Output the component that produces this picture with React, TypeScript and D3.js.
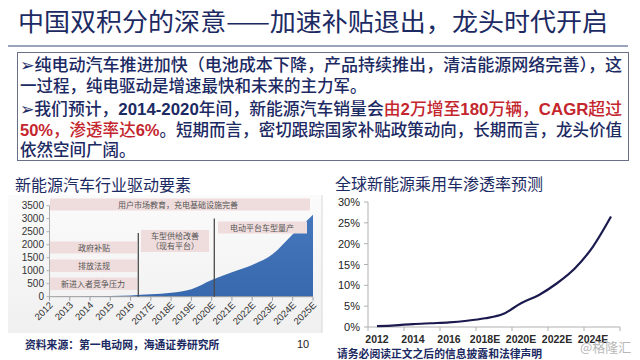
import React from "react";
import * as d3 from "d3";

const leftCategories = ["2012","2013","2014","2015","2016","2017E","2018E","2019E","2020E","2021E","2022E","2023E","2024E","2025E"];
const salesValues = [0, 5, 15, 30, 50, 90, 150, 285, 640, 940, 1220, 1630, 2400, 3150];
const leftTicks = [0, 500, 1000, 1500, 2000, 2500, 3000, 3500];
const driverLabels = ["用户市场教育，充电基础设施完善", "政府补贴", "排放法规", "新进入者竞争压力", "车型供给改善", "（现有平台）", "电动平台车型量产"];

const rightCategories = ["2012","2013","2014","2015","2016","2017E","2018E","2019E","2020E","2021E","2022E","2023E","2024E","2025E"];
const penetration = [0.2, 0.4, 0.7, 0.9, 1.1, 1.5, 2.1, 3.1, 5.7, 7.7, 10.5, 14.1, 19.3, 26.5];
const rightTicks = [0, 5, 10, 15, 20, 25, 30];

const CJK = "'Noto Sans CJK SC', 'Noto Sans', sans-serif";
const LAT = "'Liberation Sans', Arial, sans-serif";
const NAVY = "#1c2a63";
const RED = "#c4262e";

export default function App() {
  // left chart
  const xL = d3.scalePoint<string>().domain(leftCategories).range([49.5, 313]);
  const yL = d3.scaleLinear().domain([0, 3500]).range([296.7, 205.7]);
  const area = d3.area<number>()
    .x((_, i) => xL(leftCategories[i]) as number)
    .y0(yL(0))
    .y1((d) => yL(d))
    .curve(d3.curveMonotoneX);

  // right chart
  const xR = d3.scaleBand<string>().domain(rightCategories).range([368, 620]).padding(0);
  const yR = d3.scaleLinear().domain([0, 30]).range([327, 202]);
  const cx = (c: string) => (xR(c) as number) + xR.bandwidth() / 2;
  const line = d3.line<number>()
    .x((_, i) => cx(rightCategories[i]))
    .y((d) => yR(d))
    .curve(d3.curveMonotoneX);

  const boxes = [
    { x: 50, y: 198.5, w: 260, h: 12, label: [driverLabels[0]], tx: 178 },
    { x: 50, y: 241.5, w: 87, h: 12, label: [driverLabels[1]], tx: 94 },
    { x: 50, y: 259.5, w: 87, h: 12.5, label: [driverLabels[2]], tx: 94 },
    { x: 50, y: 277.5, w: 87, h: 12.5, label: [driverLabels[3]], tx: 93 },
    { x: 141, y: 230, w: 68, h: 22, label: [driverLabels[4], driverLabels[5]], tx: 175 },
    { x: 218, y: 221.5, w: 89, h: 12, label: [driverLabels[6]], tx: 262 },
  ];

  const rightTickPositions = rightCategories.filter((_, i) => i % 2 === 0).map((c) => xR(c) as number).concat([620]);

  return (
    <svg width={640} height={360} style={{ position: "absolute", left: 0, top: 0, background: "#fff" }}>
      <defs>
        <linearGradient id="panel" x1="0" y1="0" x2="0" y2="1">
          <stop offset="0" stopColor="#fbfbfb" />
          <stop offset="1" stopColor="#f0f0f0" />
        </linearGradient>
        <linearGradient id="areaFill" x1="0" y1="0" x2="0" y2="1">
          <stop offset="0" stopColor="#4577bd" />
          <stop offset="1" stopColor="#3868ae" />
        </linearGradient>
      </defs>
      <rect width={640} height={360} fill="#fff" />

      {/* title */}
      <text x={18} y={31} fontFamily={CJK} fontSize={25} fill={NAVY} textLength={590} lengthAdjust="spacingAndGlyphs">
        中国双积分的深意——加速补贴退出，龙头时代开启
      </text>
      <line x1={8} x2={628} y1={46} y2={46} stroke="#9aa2bd" strokeWidth={2} />

      {/* text box */}
      <rect x={17.5} y={52.5} width={611} height={108} fill="#fff" stroke="#6a6f88" strokeWidth={1} />
      <g fontFamily={CJK} fontSize={16.5} fill={NAVY} fontWeight={500}>
        <text x={20} y={71} textLength={602} lengthAdjust="spacingAndGlyphs">➢纯电动汽车推进加快（电池成本下降，产品持续推出，清洁能源网络完善），这</text>
        <text x={20} y={92}>一过程，纯电驱动是增速最快和未来的主力军。</text>
        <text x={20} y={115} textLength={602} lengthAdjust="spacingAndGlyphs">
          <tspan>➢我们预计，</tspan>
          <tspan fontFamily={LAT} fontWeight="bold">2014-2020</tspan>
          <tspan>年间，新能源汽车销量会</tspan>
          <tspan fill={RED}>由</tspan>
          <tspan fill={RED} fontFamily={LAT} fontWeight="bold">2</tspan>
          <tspan fill={RED}>万增至</tspan>
          <tspan fill={RED} fontFamily={LAT} fontWeight="bold">180</tspan>
          <tspan fill={RED}>万辆，</tspan>
          <tspan fill={RED} fontFamily={LAT} fontWeight="bold">CAGR</tspan>
          <tspan fill={RED}>超过</tspan>
        </text>
        <text x={20} y={136} textLength={602} lengthAdjust="spacingAndGlyphs">
          <tspan fill={RED} fontFamily={LAT} fontWeight="bold">50%</tspan>
          <tspan fill={RED}>，渗透率达</tspan>
          <tspan fill={RED} fontFamily={LAT} fontWeight="bold">6%</tspan>
          <tspan>。短期而言，密切跟踪国家补贴政策动向，长期而言，龙头价值</tspan>
        </text>
        <text x={20} y={156}>依然空间广阔。</text>
      </g>

      {/* section titles */}
      <text x={15} y={191} fontFamily={CJK} fontSize={16} fill={NAVY}>新能源汽车行业驱动要素</text>
      <text x={335} y={190} fontFamily={CJK} fontSize={16} fill={NAVY}>全球新能源乘用车渗透率预测</text>

      {/* left panel */}
      <rect x={8} y={195} width={314} height={138} fill="url(#panel)" />
      <line x1={322} x2={322} y1={195} y2={333} stroke="#d8d8d8" />

      <path d={area(salesValues) as string} fill="url(#areaFill)" />

      {/* left axes */}
      <line x1={49.5} x2={49.5} y1={yL(3500)} y2={yL(0)} stroke="#b0b0b0" />
      {leftTicks.map((t) => (
        <g key={t}>
          <line x1={46.5} x2={49.5} y1={yL(t)} y2={yL(t)} stroke="#b0b0b0" />
          <text x={44} y={yL(t) + 3.5} textAnchor="end" fontFamily={LAT} fontSize={10} fill="#333">{t}</text>
        </g>
      ))}
      <line x1={49.5} x2={313} y1={yL(0)} y2={yL(0)} stroke="#a0a0a0" />
      {leftCategories.map((c) => (
        <g key={c}>
          <line x1={xL(c)} x2={xL(c)} y1={yL(0)} y2={yL(0) + 4} stroke="#a0a0a0" />
          <text transform={`translate(${(xL(c) as number) + 4},${yL(0) + 9}) rotate(-45)`} textAnchor="end" fontFamily={LAT} fontSize={9.5} fill="#333">{c}</text>
        </g>
      ))}

      {/* dividers */}
      <line x1={138.3} x2={138.3} y1={233} y2={yL(0)} stroke="#4a4a4a" strokeWidth={1.3} />
      <line x1={214.3} x2={214.3} y1={218.5} y2={yL(0)} stroke="#4a4a4a" strokeWidth={1.3} />

      {/* driver boxes */}
      {boxes.map((b, i) => (
        <g key={i}>
          <rect x={b.x} y={b.y} width={b.w} height={b.h} fill="#efdcdc" />
          {b.label.map((l, j) => (
            <text key={j} x={b.tx} y={b.y + (b.label.length === 1 ? b.h / 2 + 3 : 9 + j * 10)} textAnchor="middle" fontFamily={CJK} fontSize={8} fill="#555">{l}</text>
          ))}
        </g>
      ))}

      {/* right chart axes */}
      <line x1={368} x2={368} y1={yR(30)} y2={yR(0)} stroke="#b0b0b0" />
      {rightTicks.map((t) => (
        <g key={t}>
          <line x1={364} x2={368} y1={yR(t)} y2={yR(t)} stroke="#b0b0b0" />
          <text x={360} y={yR(t) + 4} textAnchor="end" fontFamily={LAT} fontSize={11} fill="#222">{t}%</text>
        </g>
      ))}
      <line x1={368} x2={620} y1={yR(0)} y2={yR(0)} stroke="#b0b0b0" />
      {rightTickPositions.map((p, i) => (
        <line key={i} x1={p} x2={p} y1={yR(0)} y2={yR(0) + 4} stroke="#b0b0b0" />
      ))}
      {rightCategories.map((c, i) => i % 2 === 0 ? (
        <text key={c} x={cx(c)} y={343} textAnchor="middle" fontFamily={LAT} fontSize={10.5} fontWeight="bold" fill="#2a2a2a">{c}</text>
      ) : null)}
      <path d={line(penetration) as string} fill="none" stroke="#1b1a4f" strokeWidth={2.2} />

      {/* footers */}
      <text x={25} y={349} fontFamily={CJK} fontSize={10.8} fontWeight="bold" fill={NAVY}>资料来源：第一电动网，海通证券研究所</text>
      <text x={297} y={348} fontFamily={LAT} fontSize={11} fill="#222">10</text>
      <text x={337} y={358} fontFamily={CJK} fontSize={10.8} fontWeight="bold" fill={NAVY}>请务必阅读正文之后的信息披露和法律声明</text>
      <text x={580} y={352} fontFamily={CJK} fontSize={13} fill="#b8b8b8">@格隆汇</text>
    </svg>
  );
}
